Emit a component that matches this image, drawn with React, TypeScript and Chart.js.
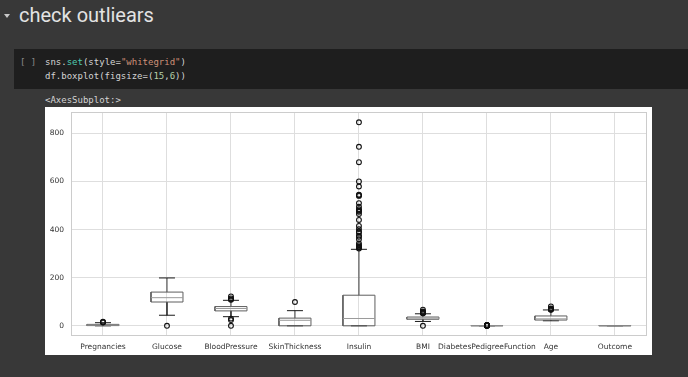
import React, { useEffect, useRef } from "react";
import { Chart, registerables } from "chart.js";

Chart.register(...registerables);

const categories = [
  "Pregnancies",
  "Glucose",
  "BloodPressure",
  "SkinThickness",
  "Insulin",
  "BMI",
  "DiabetesPedigreeFunction",
  "Age",
  "Outcome",
];
const q1Values = [1, 99, 62, 0, 0, 27.3, 0.244, 24, 0];
const medianValues = [3, 117, 72, 23, 30.5, 32, 0.3725, 29, 0];
const q3Values = [6, 140.25, 80, 32, 127.25, 36.6, 0.626, 41, 1];
const whiskerLow = [0, 44, 38, 0, 0, 18.2, 0.078, 21, 0];
const whiskerHigh = [13, 199, 106, 63, 318, 50, 1.191, 66, 1];
const outlierValues: number[][] = [
  [14, 15, 17],
  [0],
  [0, 24, 30, 108, 110, 114, 122],
  [99],
  [321, 325, 326, 328, 330, 335, 342, 360, 370, 375, 387, 392, 402, 415, 440, 465, 474, 478, 480, 485, 495, 510, 540, 543, 545, 579, 600, 680, 744, 846],
  [0, 52.3, 52.9, 53.2, 55, 57.3, 59.4, 67.1],
  [1.213, 1.224, 1.251, 1.258, 1.292, 1.318, 1.353, 1.39, 1.441, 1.476, 1.6, 1.699, 1.731, 1.781, 1.893, 2.137, 2.288, 2.329, 2.42],
  [67, 68, 69, 70, 72, 81],
  [],
];
const yTicks = [0, 200, 400, 600, 800];
const yMin = -42.3;
const yMax = 888.3;

type Pt = { x: number; y: number | null };

function gap(x: number): Pt {
  return { x, y: null };
}

function buildBoxes(): Pt[] {
  const pts: Pt[] = [];
  categories.forEach((_, i) => {
    const p = i + 1;
    const a = q1Values[i];
    const b = q3Values[i];
    pts.push({ x: p - 0.25, y: a }, { x: p + 0.25, y: a }, { x: p + 0.25, y: b }, { x: p - 0.25, y: b }, { x: p - 0.25, y: a }, gap(p));
  });
  return pts;
}
function buildMedians(): Pt[] {
  const pts: Pt[] = [];
  categories.forEach((_, i) => {
    const p = i + 1;
    pts.push({ x: p - 0.25, y: medianValues[i] }, { x: p + 0.25, y: medianValues[i] }, gap(p));
  });
  return pts;
}
function buildWhiskers(): Pt[] {
  const pts: Pt[] = [];
  categories.forEach((_, i) => {
    const p = i + 1;
    pts.push({ x: p, y: q1Values[i] }, { x: p, y: whiskerLow[i] }, gap(p));
    pts.push({ x: p, y: q3Values[i] }, { x: p, y: whiskerHigh[i] }, gap(p));
  });
  return pts;
}
function buildCaps(): Pt[] {
  const pts: Pt[] = [];
  categories.forEach((_, i) => {
    const p = i + 1;
    pts.push({ x: p - 0.125, y: whiskerLow[i] }, { x: p + 0.125, y: whiskerLow[i] }, gap(p));
    pts.push({ x: p - 0.125, y: whiskerHigh[i] }, { x: p + 0.125, y: whiskerHigh[i] }, gap(p));
  });
  return pts;
}
function buildOutliers(): Pt[] {
  const pts: Pt[] = [];
  outlierValues.forEach((arr, i) => arr.forEach((v) => pts.push({ x: i + 1, y: v })));
  return pts;
}

const framePlugin = {
  id: "frame",
  beforeDatasetsDraw(chart: any) {
    const { ctx, chartArea } = chart;
    ctx.save();
    ctx.strokeStyle = "#cccccc";
    ctx.lineWidth = 1;
    ctx.strokeRect(
      Math.round(chartArea.left) + 0.5,
      Math.round(chartArea.top) + 0.5,
      Math.round(chartArea.right - chartArea.left) - 1,
      Math.round(chartArea.bottom - chartArea.top) - 1
    );
    ctx.restore();
  },
};

function BoxChart() {
  const ref = useRef<HTMLCanvasElement>(null);
  useEffect(() => {
    if (!ref.current) return;
    const lineDs = (data: Pt[], color: string, order: number) => ({
      type: "line" as const,
      data,
      borderColor: color,
      borderWidth: 1,
      pointRadius: 0,
      showLine: true,
      spanGaps: false,
      fill: false,
      order,
    });
    const chart = new Chart(ref.current, {
      type: "scatter",
      data: {
        datasets: [
          lineDs(buildWhiskers(), "#3a3a3a", 4) as any,
          lineDs(buildCaps(), "#1a1a1a", 3) as any,
          lineDs(buildBoxes(), "#5e5e5e", 2) as any,
          lineDs(buildMedians(), "#9a9a9a", 1) as any,
          {
            type: "scatter",
            data: buildOutliers(),
            pointRadius: 2.4,
            pointBorderWidth: 1.1,
            borderColor: "#111111",
            backgroundColor: "rgba(0,0,0,0)",
            pointBackgroundColor: "rgba(0,0,0,0)",
            pointBorderColor: "#111111",
            showLine: false,
            order: 0,
          } as any,
        ],
      },
      options: {
        animation: false,
        responsive: false,
        devicePixelRatio: 1,
        layout: { padding: { top: 5, right: 4, left: 0, bottom: 0 } },
        plugins: { legend: { display: false }, tooltip: { enabled: false } },
        scales: {
          x: {
            type: "linear",
            min: 0.5,
            max: 9.5,
            afterBuildTicks: (scale: any) => {
              scale.ticks = categories.map((_, i) => ({ value: i + 1 }));
            },
            afterFit: (scale: any) => {
              scale.height = 19;
              scale.paddingLeft = 0;
              scale.paddingRight = 0;
            },
            grid: { color: "#dedede", lineWidth: 1, drawTicks: false },
            border: { display: false },
            ticks: {
              autoSkip: false,
              maxRotation: 0,
              minRotation: 0,
              padding: 7,
              color: "#333333",
              font: { family: "DejaVu Sans", size: 7.5 },
              callback: (v: any) => categories[Math.round(Number(v)) - 1] ?? "",
            },
          },
          y: {
            type: "linear",
            min: yMin,
            max: yMax,
            afterBuildTicks: (scale: any) => {
              scale.ticks = yTicks.map((v) => ({ value: v }));
            },
            afterFit: (scale: any) => {
              scale.width = 26;
              scale.paddingTop = 0;
              scale.paddingBottom = 0;
            },
            grid: { color: "#dedede", lineWidth: 1, drawTicks: false },
            border: { display: false },
            ticks: {
              padding: 7,
              color: "#333333",
              font: { family: "DejaVu Sans", size: 7.5 },
            },
          },
        },
      },
      plugins: [framePlugin],
    });
    return () => chart.destroy();
  }, []);
  return <canvas ref={ref} width={607} height={248} style={{ display: "block" }} />;
}

export default function App() {
  const mono = "'DejaVu Sans Mono', 'Liberation Mono', monospace";
  return (
    <div
      style={{
        position: "fixed",
        left: 0,
        top: 0,
        width: 688,
        height: 377,
        background: "#383838",
        overflow: "hidden",
      }}
    >
      <div
        style={{
          position: "absolute",
          left: 4,
          top: 14,
          width: 0,
          height: 0,
          borderLeft: "3px solid transparent",
          borderRight: "3px solid transparent",
          borderTop: "4px solid #c8c8c8",
        }}
      />
      <div
        style={{
          position: "absolute",
          left: 19,
          top: 2,
          fontFamily: "Roboto, 'Noto Sans', sans-serif",
          fontSize: 20,
          lineHeight: "26px",
          color: "#e3e3e3",
          whiteSpace: "nowrap",
        }}
      >
        check outliears
      </div>
      <div
        style={{
          position: "absolute",
          left: 14,
          top: 49,
          width: 674,
          height: 40,
          background: "#1e1e1e",
        }}
      />
      <div
        style={{
          position: "absolute",
          left: 20,
          top: 55,
          fontFamily: mono,
          fontSize: 9,
          lineHeight: "14px",
          color: "#8a8a8a",
          whiteSpace: "pre",
        }}
      >
        [ ]
      </div>
      <div
        style={{
          position: "absolute",
          left: 45,
          top: 55,
          fontFamily: mono,
          fontSize: 9,
          lineHeight: "14px",
          color: "#d4d4d4",
          whiteSpace: "pre",
        }}
      >
        <div>
          sns.<span style={{ color: "#4ec9b0" }}>set</span>(style=
          <span style={{ color: "#ce9178" }}>"whitegrid"</span>)
        </div>
        <div>
          df.boxplot(figsize=(<span style={{ color: "#b5cea8" }}>15</span>,
          <span style={{ color: "#b5cea8" }}>6</span>))
        </div>
      </div>
      <div
        style={{
          position: "absolute",
          left: 45,
          top: 93,
          fontFamily: mono,
          fontSize: 9,
          lineHeight: "14px",
          color: "#d4d4d4",
          whiteSpace: "pre",
        }}
      >
        {"<AxesSubplot:>"}
      </div>
      <div
        style={{
          position: "absolute",
          left: 45,
          top: 107,
          width: 607,
          height: 248,
          background: "#ffffff",
        }}
      >
        <BoxChart />
      </div>
    </div>
  );
}
